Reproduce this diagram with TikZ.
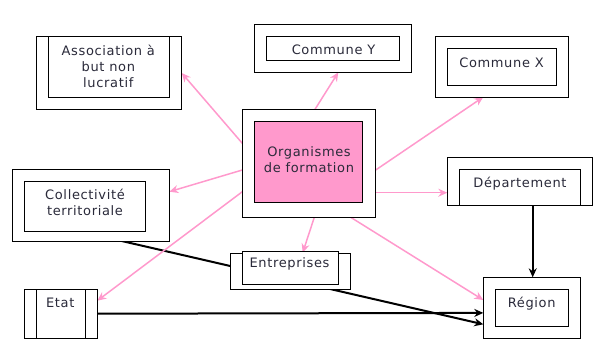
\documentclass[tikz,border=0pt]{standalone}
\usepackage{fontspec}
\setmainfont{DejaVu Sans}[LetterSpace=5]
\usetikzlibrary{arrows.meta,backgrounds}
\definecolor{rose}{HTML}{FF99CC}
\definecolor{txt}{HTML}{2A2A3A}
\tikzset{
  box/.style={draw, line width=1pt, fill=white, inner sep=0pt, outer sep=0pt, anchor=north west},
  lbl/.style={font=\fontsize{13}{16}\selectfont, text=txt, align=center, inner sep=0pt},
  pinkarrow/.style={draw=rose, line width=1.5pt, -{Stealth[length=9pt,width=8pt]}},
  blackarrow/.style={draw=black, line width=2pt, -{Stealth[length=9pt,width=8pt]}},
}
\begin{document}
\begin{tikzpicture}[x=1pt,y=-1pt]
\useasboundingbox (0,0) rectangle (609,362);
% outer and inner boxes
\node[box, minimum width=145pt, minimum height=73pt] (assocO) at (36.7,36) {};
\node[box, minimum width=121pt, minimum height=61.3pt] (assocI) at (48.3,36) {};
\node[box, minimum width=157.4pt, minimum height=48pt] (comYO) at (254.3,24.3) {};
\node[box, minimum width=133.3pt, minimum height=24pt] (comYI) at (266,36.3) {};
\node[box, minimum width=133pt, minimum height=60.3pt] (comXO) at (435.3,36.7) {};
\node[box, minimum width=109.4pt, minimum height=37pt] (comXI) at (447.3,48.3) {};
\node[box, minimum width=157pt, minimum height=71.7pt] (collO) at (12.3,169.3) {};
\node[box, minimum width=121.7pt, minimum height=49.7pt] (collI) at (24,181.3) {};
\node[box, minimum width=133.4pt, minimum height=108pt] (orgO) at (242.3,109.3) {};
\node[box, fill=rose, minimum width=108pt, minimum height=80.6pt] (orgI) at (254.3,121.7) {};
\node[box, minimum width=145pt, minimum height=48pt] (depO) at (447.3,157.3) {};
\node[box, minimum width=121.4pt, minimum height=36pt] (depI) at (459.3,169.3) {};
\node[box, minimum width=73pt, minimum height=49pt] (etat) at (24.3,289.3) {};
\draw[line width=1pt] ([xshift=12pt]etat.north west) -- ([xshift=12pt]etat.south west);
\draw[line width=1pt] ([xshift=61.4pt]etat.north west) -- ([xshift=61.4pt]etat.south west);
\node[box, minimum width=97.4pt, minimum height=61pt] (regO) at (483.3,277.3) {};
\node[box, minimum width=73pt, minimum height=37pt] (regI) at (495.3,289.3) {};
\node[box, minimum width=120pt, minimum height=36pt] (entO) at (230.7,253.3) {};
\node[box, minimum width=96pt, minimum height=32.6pt] (entI) at (242.3,251.7) {};
% labels
\node[lbl] (tAssoc) at (108.3,66.7) {Association à\\but non\\lucratif};
\node[lbl] (tComY) at (333.5,50) {Commune Y};
\node[lbl] (tComX) at (501.5,62.3) {Commune X};
\node[lbl] (tColl) at (85,202.7) {Collectivité\\territoriale};
\node[lbl] (tOrg) at (309,159.7) {Organismes\\de formation};
\node[lbl] (tDep) at (520,183.3) {Département};
\node[lbl] (tEtat) at (60.3,303.3) {Etat};
\node[lbl] (tReg) at (531.7,303.3) {Région};
\node[lbl] (tEnt) at (289.5,264.3) {Entreprises};
% connectors
\begin{scope}[on background layer]
\draw[blackarrow] ([xshift=109.4pt]collO.south west) -- ([yshift=-47pt]regO.north west);
\draw[blackarrow] ([yshift=-24.4pt]etat.north east) -- ([yshift=-35.6pt]regO.north west);
\draw[blackarrow] ([xshift=85.4pt]depO.south west) -- ([xshift=49.4pt]regO.north west);
\draw[pinkarrow] ([yshift=-34pt]orgO.north west) -- ([yshift=-37pt]assocO.north east);
\draw[pinkarrow] ([xshift=72.7pt]orgO.north west) -- ([xshift=84pt]comYO.south west);
\draw[pinkarrow] ([yshift=-60.7pt]orgO.north east) -- ([xshift=48pt]comXO.south west);
\draw[pinkarrow] ([yshift=-83.4pt]orgO.north east) -- ([yshift=-35.4pt]depO.north west);
\draw[pinkarrow] ([yshift=-60.7pt]orgO.north west) -- ([yshift=-22.4pt]collO.north east);
\draw[pinkarrow] ([yshift=-82.4pt]orgO.north west) -- ([yshift=-11.4pt]etat.north east);
\draw[pinkarrow] ([xshift=72pt]orgO.south west) -- ([xshift=72pt,yshift=0.6pt]entO.north west);
\draw[pinkarrow] ([xshift=108.4pt]orgO.south west) -- ([yshift=-22.7pt]regO.north west);
\end{scope}
\end{tikzpicture}
\end{document}
